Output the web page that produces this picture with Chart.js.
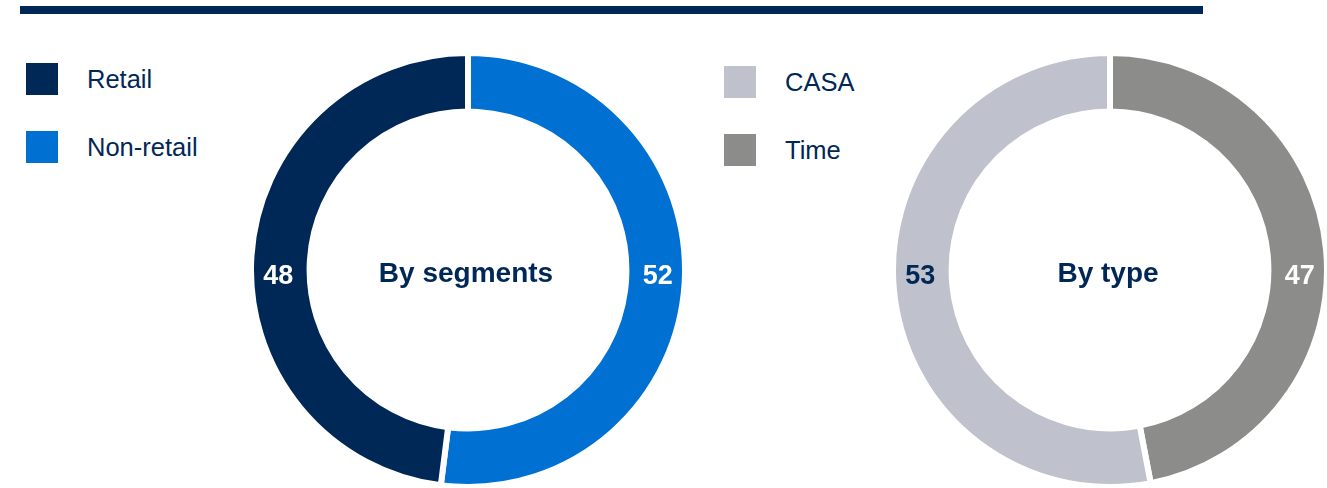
<!DOCTYPE html>
<html>
<head>
<meta charset="utf-8">
<script src="https://cdn.jsdelivr.net/npm/chart.js@4.4.0/dist/chart.umd.min.js"></script>
<style>
  html, body { margin: 0; padding: 0; background: #fff; }
  body { width: 1327px; height: 488px; position: relative; overflow: hidden;
         font-family: "Liberation Sans", Arial, sans-serif; }
  .topbar { position: absolute; left: 20px; top: 6px; width: 1183px; height: 8px; background: #002856; }
  .legend { position: absolute; }
  .legend .item { position: absolute; left: 0; height: 32px; white-space: nowrap; }
  .legend .swatch { position: absolute; left: 0; top: 0; width: 32px; height: 32px; }
  .legend .text { position: absolute; left: 61px; top: 0; line-height: 32px; font-size: 25.5px; color: #002856; }
  .chartBox { position: absolute; top: 50px; width: 440px; height: 440px; }
</style>
</head>
<body>
<div class="topbar"></div>
<div class="legend" id="legendSegments" style="left:26px; top:63px;"></div>
<div class="legend" id="legendType" style="left:724px; top:66px;"></div>
<div class="chartBox" style="left:248px;"><canvas id="segmentsChart" width="440" height="440"></canvas></div>
<div class="chartBox" style="left:890px;"><canvas id="typeChart" width="440" height="440"></canvas></div>

<script>
// Share of deposits, %
const segmentLabels = ["Retail", "Non-retail"];
const segmentValues = [48, 52];
const segmentTitle = "By segments";

const typeLabels = ["CASA", "Time"];
const typeValues = [53, 47];
const typeTitle = "By type";

const NAVY = "#002856";
const segmentColors = ["#002856", "#0070d2"];
const segmentTextColors = ["#ffffff", "#ffffff"];
const typeColors = ["#bfc1cc", "#8c8d8a"];
const typeTextColors = ["#002856", "#ffffff"];

function buildLegend(id, labels, colors) {
    const box = document.getElementById(id);
    labels.forEach((lab, i) => {
        const item = document.createElement("div");
        item.className = "item";
        item.style.top = (i * 68) + "px";
        item.innerHTML = `<div class="swatch" style="background:${colors[i]}"></div><div class="text">${lab}</div>`;
        box.appendChild(item);
    });
}

// writes each slice value at 9 or 3 o'clock on the ring, plus the title in the hole
const ringText = {
    id: "ringText",
    afterDatasetsDraw(chart, args, opts) {
        const ctx = chart.ctx;
        const meta = chart.getDatasetMeta(0);
        const values = chart.data.datasets[0].data;
        ctx.save();
        ctx.textAlign = "center";
        ctx.textBaseline = "middle";
        ctx.font = "bold 27px 'Liberation Sans', Arial, sans-serif";
        meta.data.forEach((arc, i) => {
            const p = arc.getProps(["x", "y", "startAngle", "endAngle", "innerRadius", "outerRadius"], true);
            const mid = (p.startAngle + p.endAngle) / 2;
            const side = Math.cos(mid) < 0 ? -1 : 1;
            const r = (p.innerRadius + p.outerRadius) / 2 + 2;
            ctx.fillStyle = opts.textColors[i];
            ctx.fillText(String(values[i]), p.x + side * r, p.y + 7);
        });
        const c = meta.data[0];
        ctx.fillStyle = NAVY;
        ctx.font = "bold 28px 'Liberation Sans', Arial, sans-serif";
        ctx.fillText(opts.title, c.x - 2, c.y + 4);
        ctx.restore();
    }
};

function renderRing(id, labels, values, colors, textColors, title) {
    // slices are listed so the second one starts at 12 o'clock and runs clockwise
    const order = [1, 0];
    new Chart(document.getElementById(id), {
        type: "doughnut",
        data: {
            labels: order.map(i => labels[i]),
            datasets: [{
                data: order.map(i => values[i]),
                backgroundColor: order.map(i => colors[i]),
                borderColor: "#ffffff",
                borderWidth: 6
            }]
        },
        options: {
            responsive: false,
            animation: false,
            cutout: "73%",
            layout: { padding: 0 },
            plugins: {
                legend: { display: false },
                tooltip: { enabled: false },
                ringText: { title: title, textColors: order.map(i => textColors[i]) }
            }
        },
        plugins: [ringText]
    });
}

buildLegend("legendSegments", segmentLabels, segmentColors);
buildLegend("legendType", typeLabels, typeColors);
renderRing("segmentsChart", segmentLabels, segmentValues, segmentColors, segmentTextColors, segmentTitle);
renderRing("typeChart", typeLabels, typeValues, typeColors, typeTextColors, typeTitle);
</script>
</body>
</html>
